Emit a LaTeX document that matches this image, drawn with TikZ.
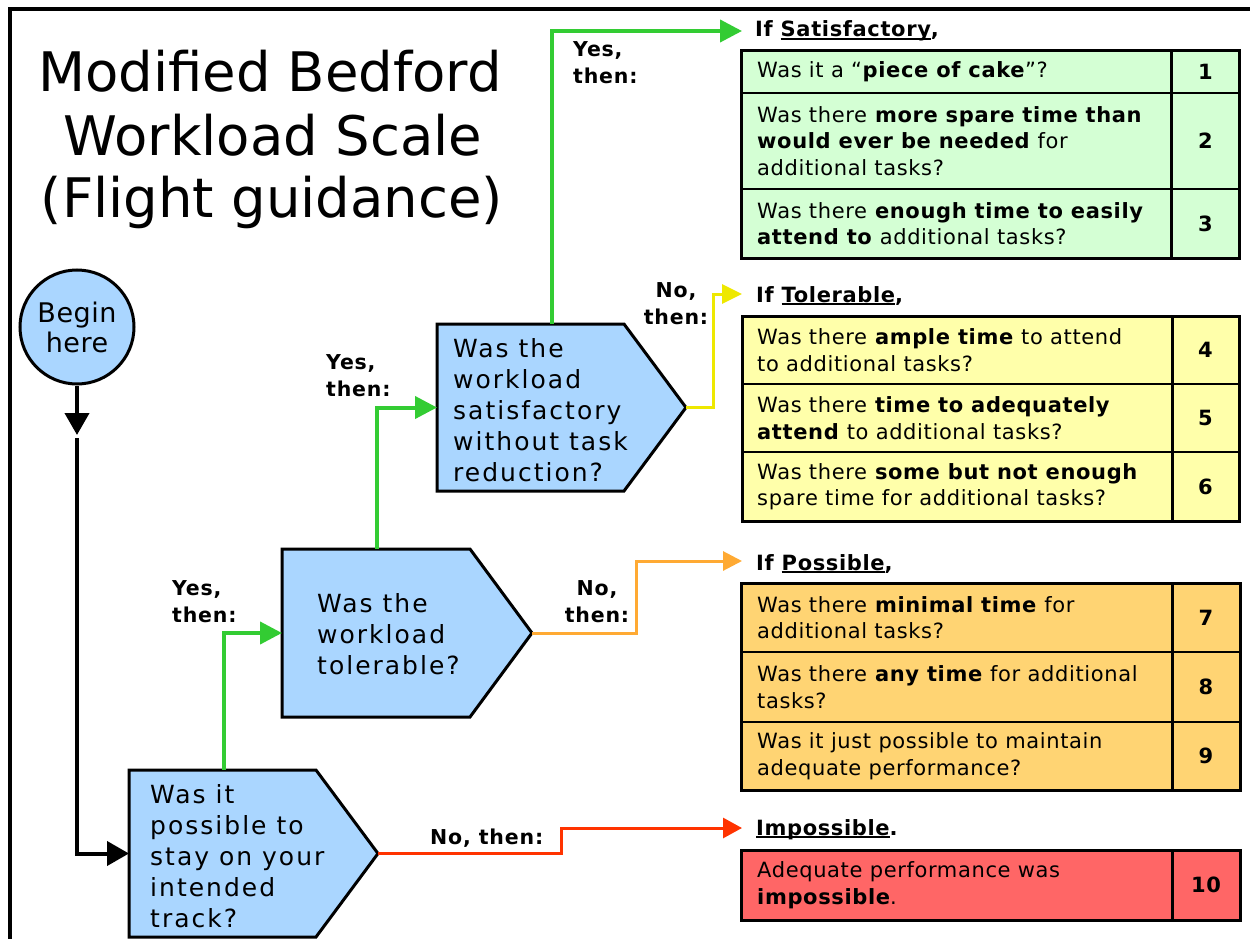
\documentclass[tikz,border=0pt]{standalone}
\usepackage{fontspec}
\setmainfont{DejaVu Sans}
\newfontfamily\MBtitle{DejaVu Sans}
\newfontfamily\MBq[LetterSpace=8]{DejaVu Sans}
\newfontfamily\MBtab[LetterSpace=3]{DejaVu Sans}
\newfontfamily\MBlab[LetterSpace=4]{DejaVu Sans}
\newfontfamily\MBbeg[LetterSpace=2]{DejaVu Sans}
\usetikzlibrary{arrows.meta}
\definecolor{qblue}{RGB}{170,214,255}
\definecolor{tgreen}{RGB}{212,255,212}
\definecolor{tyellow}{RGB}{255,255,170}
\definecolor{torange}{RGB}{255,212,115}
\definecolor{tred}{RGB}{255,102,102}
\definecolor{cgreen}{RGB}{51,204,51}
\definecolor{cyellow}{RGB}{238,232,0}
\definecolor{corange}{RGB}{255,170,51}
\definecolor{cred}{RGB}{255,51,0}
\newcommand\MBul[1]{\setbox0=\hbox{#1}\rlap{\rule[-2.8pt]{\wd0}{1.5pt}}\box0}
\begin{document}
\begin{tikzpicture}[x=1pt,y=-1pt,
  qrect/.style={rectangle,minimum width=187pt,minimum height=167pt,inner sep=0pt,outer sep=0pt},
  qshape/.style={draw=black,fill=qblue,line width=3pt},
  qtext/.style={anchor=west,align=left,inner sep=0pt,font=\MBq\fontsize{25}{31}\selectfont},
  lab/.style={inner sep=0pt,font=\MBlab\bfseries\fontsize{20.5}{27}\selectfont},
  head/.style={anchor=base west,inner sep=0pt,font=\MBtab\bfseries\fontsize{21}{26.5}\selectfont},
  rowtext/.style={anchor=west,align=left,inner sep=0pt,font=\MBtab\fontsize{21}{26.5}\selectfont},
  num/.style={inner sep=0pt,font=\MBtab\bfseries\fontsize{21}{26.5}\selectfont},
  tab/.style={rectangle,draw=black,line width=3pt,inner sep=0pt,outer sep=0pt},
  tline/.style={draw=black,line width=2pt},
  tdiv/.style={draw=black,line width=3pt},
  blkarrow/.style={draw=black,line width=4pt,-{Triangle[length=22pt,width=24pt]}},
  garrow/.style={draw=cgreen,line width=4pt,-{Triangle[length=22pt,width=22pt]}},
  yarrow/.style={draw=cyellow,line width=3pt,-{Triangle[length=20pt,width=19pt]}},
  oarrow/.style={draw=corange,line width=3pt,-{Triangle[length=19pt,width=19pt]}},
  rarrow/.style={draw=cred,line width=3pt,-{Triangle[length=19pt,width=20pt]}}
]
\useasboundingbox (0,0) rectangle (1250,939);
\fill[white] (0,0) rectangle (1250,939);
% frame
\draw[line width=4pt] (9.5,939) -- (9.5,9) -- (1250,9);

% title
\node[anchor=base,inner sep=0pt,font=\MBtitle\fontsize{54.5}{63}\selectfont] (title1) at (270,92) {Modified Bedford};
\node[anchor=base,inner sep=0pt,font=\MBtitle\fontsize{54.5}{63}\selectfont] (title2) at (273,155) {Workload Scale};
\node[anchor=base,inner sep=0pt,font=\MBtitle\fontsize{54.5}{63}\selectfont] (title3) at (272,217) {(Flight guidance)};

% begin
\node[circle,draw=black,line width=3pt,fill=qblue,minimum size=114pt,inner sep=0pt,align=center,font=\MBbeg\fontsize{27}{30}\selectfont] (start) at (77,327) {Begin\\here};

% question boxes
\node[qrect] (q1) at (222.5,853.5) {};
\coordinate (q1tip) at ([xshift=62pt]q1.east);
\draw[qshape] (q1.north west) -- (q1.north east) -- (q1tip) -- (q1.south east) -- (q1.south west) -- cycle;
\node[qtext] (q1t) at (150,856) {Was it\\possible to\\stay on your\\intended\\track?};

\node[qrect,minimum width=188pt,minimum height=168pt] (q2) at (376,633) {};
\coordinate (q2tip) at ([xshift=62pt]q2.east);
\draw[qshape] (q2.north west) -- (q2.north east) -- (q2tip) -- (q2.south east) -- (q2.south west) -- cycle;
\node[qtext] (q2t) at (317,634) {Was the\\workload\\tolerable?};

\node[qrect] (q3) at (530.5,407.5) {};
\coordinate (q3tip) at ([xshift=62pt]q3.east);
\draw[qshape] (q3.north west) -- (q3.north east) -- (q3tip) -- (q3.south east) -- (q3.south west) -- cycle;
\node[qtext] (q3t) at (453,410) {Was the\\workload\\satisfactory\\without task\\reduction?};

% black connectors
\coordinate (btip) at (77,435);
\coordinate (trunk) at (77,438);
\draw[blkarrow] (start.south) -- (btip);
\draw[blkarrow] (trunk) |- (q1.west);

% target coordinates
\coordinate (satin) at (742,31);
\coordinate (tolin) at (742,294);
\coordinate (posin) at (742,561);
\coordinate (impin) at (742,828);

% green connectors
\draw[garrow] ([xshift=1.5pt]q1.north) |- (q2.west);
\draw[garrow] ([xshift=1pt]q2.north) |- (q3.west);
\draw[garrow] ([xshift=21pt]q3.north) |- (satin);
% no connectors
\draw[yarrow] (q3tip) -- ++(27,0) |- (tolin);
\draw[oarrow] (q2tip) -- ++(104,0) |- (posin);
\draw[rarrow] (q1tip) -- ++(183,0) |- (impin);

% labels
\node[lab,anchor=west,align=left] (l1) at (573,63) {Yes,\\then:};
\node[lab,anchor=west,align=left] (l2) at (326,376) {Yes,\\then:};
\node[lab,anchor=west,align=left] (l3) at (172,602) {Yes,\\then:};
\node[lab,align=center] (l4) at (676,304) {No,\\then:};
\node[lab,align=center] (l5) at (597,602) {No,\\then:};
\node[lab,anchor=base west] (l6) at (430,844) {No, then:};

% headings
\node[head] (h1) at (755,37) {If \MBul{Satisfactory},};
\node[head] (h2) at (756,302) {If \MBul{Tolerable},};
\node[head] (h3) at (756,570) {If \MBul{Possible},};
\node[head] (h4) at (756,835) {\MBul{Impossible}.};

% table 1
\node[tab,fill=tgreen,minimum width=498pt,minimum height=207pt] (t1) at (990,154.5) {};
\draw[tline] (741,93) -- (1239,93);
\draw[tline] (741,189) -- (1239,189);
\draw[tdiv] (1171.5,51) -- (1171.5,258);
\node[rowtext] (r1) at (757,72) {Was it a “\textbf{piece of cake}”?};
\node[num] (n1) at (1205.5,72) {1};
\node[rowtext] (r2) at (757,141) {Was there \textbf{more spare time than}\\\textbf{would ever be needed} for\\additional tasks?};
\node[num] (n2) at (1205.5,141) {2};
\node[rowtext] (r3) at (757,223.5) {Was there \textbf{enough time to easily}\\\textbf{attend to} additional tasks?};
\node[num] (n3) at (1205.5,223.5) {3};

% table 2
\node[tab,fill=tyellow,minimum width=497pt,minimum height=205pt] (t2) at (990.5,418.5) {};
\draw[tline] (742,384) -- (1239,384);
\draw[tline] (742,452) -- (1239,452);
\draw[tdiv] (1172,316) -- (1172,521);
\node[rowtext] (r4) at (757,350) {Was there \textbf{ample time} to attend\\to additional tasks?};
\node[num] (n4) at (1205.5,350) {4};
\node[rowtext] (r5) at (757,418) {Was there \textbf{time to adequately}\\\textbf{attend} to additional tasks?};
\node[num] (n5) at (1205.5,418) {5};
\node[rowtext] (r6) at (757,486.5) {Was there \textbf{some but not enough}\\spare time for additional tasks?};
\node[num] (n6) at (1205.5,486.5) {6};

% table 3
\node[tab,fill=torange,minimum width=499pt,minimum height=207pt] (t3) at (990.5,686.5) {};
\draw[tline] (741,652) -- (1240,652);
\draw[tline] (741,722) -- (1240,722);
\draw[tdiv] (1172,583) -- (1172,790);
\node[rowtext] (r7) at (757,617.5) {Was there \textbf{minimal time} for\\additional tasks?};
\node[num] (n7) at (1206,617.5) {7};
\node[rowtext] (r8) at (757,687) {Was there \textbf{any time} for additional\\tasks?};
\node[num] (n8) at (1206,687) {8};
\node[rowtext] (r9) at (757,756) {Was it just possible to maintain\\adequate performance?};
\node[num] (n9) at (1206,756) {9};

% table 4
\node[tab,fill=tred,minimum width=499pt,minimum height=70pt] (t4) at (990.5,885) {};
\draw[tdiv] (1172,850) -- (1172,920);
\node[rowtext] (r10) at (757,885) {Adequate performance was\\\textbf{impossible}.};
\node[num] (n10) at (1206,885) {10};
\end{tikzpicture}
\end{document}
